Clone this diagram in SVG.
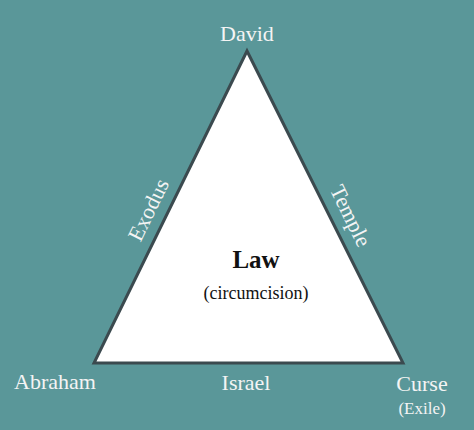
<svg xmlns="http://www.w3.org/2000/svg" width="474" height="430" viewBox="0 0 474 430">
<style>
.t{font-family:"Liberation Serif","DejaVu Serif",serif;fill:#f4f4f4;text-anchor:middle}
.d{font-family:"Liberation Serif","DejaVu Serif",serif;fill:#111;text-anchor:middle}
</style>
<rect width="474" height="430" fill="#5a9799"/>
<g id="triangle">
<polygon points="247,51 94,363 403,363" fill="#ffffff" stroke="#3b4a4f" stroke-width="3" stroke-linejoin="miter"/>
</g>
<g id="connectors">
<text class="t" font-size="22" transform="translate(155,213) rotate(-63.9)">Exodus</text>
<text class="t" font-size="22" transform="translate(344,219) rotate(63.9)">Temple</text>
</g>
<g id="david"><text class="t" x="247" y="41" font-size="22">David</text></g>
<g id="abraham"><text class="t" x="55" y="389" font-size="22">Abraham</text></g>
<g id="israel"><text class="t" x="246" y="390" font-size="22">Israel</text></g>
<g id="curse"><text class="t" x="422" y="391" font-size="22">Curse</text>
<text class="t" x="422" y="414" font-size="17">(Exile)</text></g>
<g id="law"><text class="d" x="256" y="268" font-size="25" font-weight="bold">Law</text>
<text class="d" x="256" y="299" font-size="18">(circumcision)</text></g>
</svg>
